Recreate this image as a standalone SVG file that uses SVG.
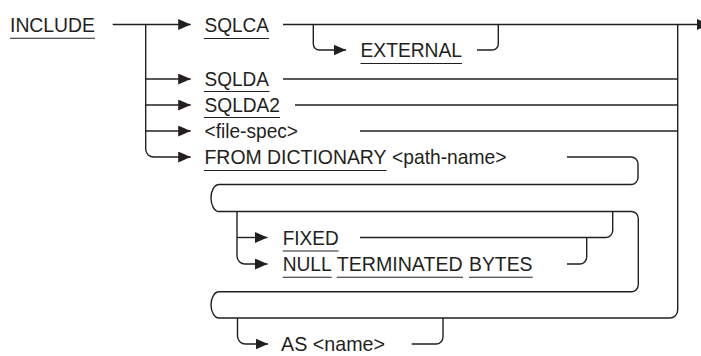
<svg xmlns="http://www.w3.org/2000/svg" width="701" height="356" viewBox="0 0 701 356">
<defs>
<style>
text{font-family:"Liberation Sans",Arial,sans-serif;font-size:20.3px;fill:#231f20}
.ul{stroke:#231f20;stroke-width:1.1;fill:none}
.c{stroke:#231f20;stroke-width:1.4;fill:none}
.a{marker-end:url(#arr)}
</style>
<marker id="arr" markerUnits="userSpaceOnUse" markerWidth="13" markerHeight="12" refX="12.5" refY="5.5" orient="auto">
<path d="M0,0 L12.5,5.5 L0,11 z" fill="#231f20"/>
</marker>
</defs>
<rect width="701" height="356" fill="#ffffff"/>
<g id="connectors">
<path class="c a" d="M112.7 24.5 H190.7"/>
<path class="c a" d="M145.7 24.5 V149 A8 8 0 0 0 153.7 157 H190.7"/>
<path class="c a" d="M145.7 79 H190.7"/>
<path class="c a" d="M145.7 105 H190.7"/>
<path class="c a" d="M145.7 131 H190.7"/>
<path class="c" d="M283 24.5 H697"/>
<polygon points="697,19 709,24.5 697,30" fill="#231f20"/>
<path class="c a" d="M313.3 24.5 V44 A6 6 0 0 0 319.3 50 H346"/>
<path class="c" d="M477 50 H492.3 A6 6 0 0 0 498.3 44 V24.5"/>
<path class="c" d="M283 79 H677.7"/>
<path class="c" d="M295 105 H677.7"/>
<path class="c" d="M360 131 H677.7"/>
<path class="c" d="M567 157 H631 A7 7 0 0 1 638 164 V177.5 A7 7 0 0 1 631 184.5 H219 A8 13.5 0 0 0 219 211.5 H631.3 A7 7 0 0 1 638.3 218.5 V284.7 A7 7 0 0 1 631.3 291.7 H219 A8 13.15 0 0 0 219 318 H669.7 A8 8 0 0 0 677.7 310 V24.5"/>
<path class="c a" d="M237 211.5 V256 A8 8 0 0 0 245 264 H267.5"/>
<path class="c a" d="M237 237.5 H267.5"/>
<path class="c" d="M360 237.5 H605.7 A7 7 0 0 0 612.7 230.5 V211.5"/>
<path class="c" d="M567 264 H579.7 A7 7 0 0 0 586.7 257 V237.5"/>
<path class="c a" d="M237.5 318 V336 A8 8 0 0 0 245.5 344 H268"/>
<path class="c" d="M411.7 344 H436 A7 7 0 0 0 443 337 V318"/>
</g>
<g id="include"><text x="10" y="31.5" textLength="85" lengthAdjust="spacingAndGlyphs">INCLUDE</text><path class="ul" d="M10 38.3 H95"/></g>
<g id="sqlca"><text x="204.5" y="31.5" textLength="64.5" lengthAdjust="spacingAndGlyphs">SQLCA</text><path class="ul" d="M204 38.5 H269"/></g>
<g id="external"><text x="360.5" y="57" textLength="101.5" lengthAdjust="spacingAndGlyphs">EXTERNAL</text><path class="ul" d="M360.5 63.5 H462"/></g>
<g id="sqlda"><text x="204.5" y="86" textLength="64.5" lengthAdjust="spacingAndGlyphs">SQLDA</text><path class="ul" d="M204 91.5 H269.5"/></g>
<g id="sqlda2"><text x="204.5" y="112" textLength="75.5" lengthAdjust="spacingAndGlyphs">SQLDA2</text><path class="ul" d="M204 117.5 H280"/></g>
<g id="file-spec"><text x="204.5" y="138" textLength="93.5" lengthAdjust="spacingAndGlyphs">&lt;file-spec&gt;</text></g>
<g id="from-dictionary"><text x="204.5" y="164" textLength="182" lengthAdjust="spacingAndGlyphs">FROM DICTIONARY</text><path class="ul" d="M204 170.5 H386.5"/><text x="392" y="164" textLength="114.5" lengthAdjust="spacingAndGlyphs">&lt;path-name&gt;</text></g>
<g id="fixed"><text x="282.7" y="244.5" textLength="56" lengthAdjust="spacingAndGlyphs">FIXED</text><path class="ul" d="M282.7 251 H338.5"/></g>
<g id="null-terminated-bytes"><text x="282.7" y="271" textLength="49" lengthAdjust="spacingAndGlyphs">NULL</text><path class="ul" d="M282.7 277.3 H331.7"/><text x="336.7" y="271" textLength="126" lengthAdjust="spacingAndGlyphs">TERMINATED</text><path class="ul" d="M336.7 277.3 H463"/><text x="469" y="271" textLength="63.5" lengthAdjust="spacingAndGlyphs">BYTES</text><path class="ul" d="M469 277.3 H532.7"/></g>
<g id="as-name"><text x="281" y="351" textLength="104" lengthAdjust="spacingAndGlyphs">AS &lt;name&gt;</text></g>
</svg>
